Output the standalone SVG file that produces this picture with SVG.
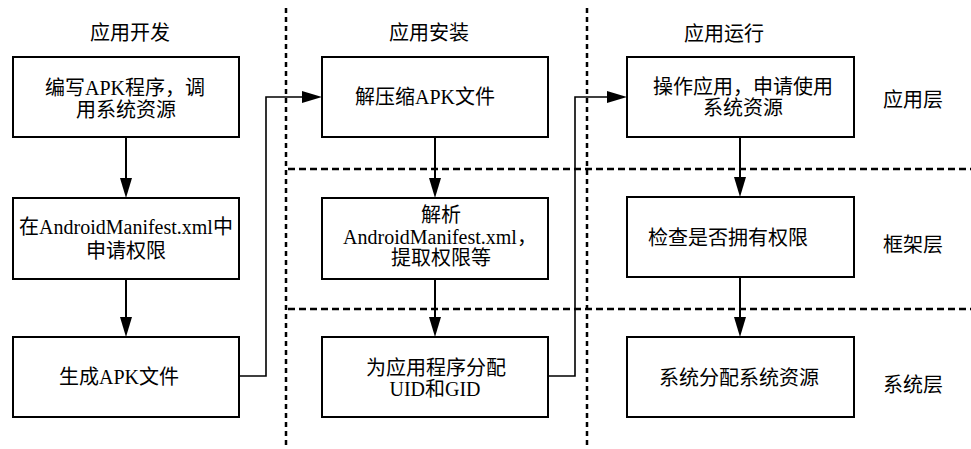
<svg xmlns="http://www.w3.org/2000/svg" width="971" height="449" viewBox="0 0 971 449">
<style>
.box{fill:#fff;stroke:#000;stroke-width:2}
.t{font-family:"Liberation Serif","Noto Sans CJK SC",serif;font-size:20px;fill:#000;text-anchor:middle}
.con{fill:none;stroke:#000;stroke-width:2}
.el{fill:none;stroke:#000;stroke-width:1.6}
.vd{fill:none;stroke:#000;stroke-width:2.5;stroke-dasharray:5 4}
.hd{fill:none;stroke:#000;stroke-width:2.5;stroke-dasharray:7 4}
</style>
<defs>
<marker id="arr" viewBox="0 0 20 12" refX="0" refY="6" markerWidth="20" markerHeight="12" markerUnits="userSpaceOnUse" orient="auto">
<path d="M0,0 L20,6 L0,12 z" fill="#000"/>
</marker>
</defs>
<rect width="971" height="449" fill="#fff"/>
<g id="separators">
<line class="vd" x1="286" y1="8" x2="286" y2="449"/>
<line class="vd" x1="587" y1="8" x2="587" y2="449"/>
<line class="hd" x1="288" y1="169" x2="971" y2="169"/>
<line class="hd" x1="288" y1="309" x2="971" y2="309"/>
</g>
<g id="titles">
<text class="t" x="130" y="40">应用开发</text>
<text class="t" x="429" y="40">应用安装</text>
<text class="t" x="724" y="41">应用运行</text>
<text class="t" x="913" y="107">应用层</text>
<text class="t" x="913" y="252">框架层</text>
<text class="t" x="913" y="392">系统层</text>
</g>
<g id="n1"><rect class="box" x="13" y="57" width="226" height="80"/>
<text class="t" x="125" y="95">编写APK程序，调</text><text class="t" x="126" y="117">用系统资源</text></g>
<g id="n2"><rect class="box" x="13" y="198" width="226" height="81"/>
<text class="t" x="126" y="234">在AndroidManifest.xml中</text><text class="t" x="126" y="258">申请权限</text></g>
<g id="n3"><rect class="box" x="13" y="337" width="226" height="80"/>
<text class="t" x="119" y="384">生成APK文件</text></g>
<g id="n4"><rect class="box" x="322" y="57" width="226" height="80"/>
<text class="t" x="425" y="104">解压缩APK文件</text></g>
<g id="n5"><rect class="box" x="322" y="198" width="226" height="81"/>
<text class="t" x="441" y="222">解析</text><text class="t" x="440" y="244">AndroidManifest.xml，</text><text class="t" x="441" y="265">提取权限等</text></g>
<g id="n6"><rect class="box" x="322" y="337" width="226" height="80"/>
<text class="t" x="436" y="375">为应用程序分配</text><text class="t" x="435" y="396">UID和GID</text></g>
<g id="n7"><rect class="box" x="627" y="57" width="227" height="80"/>
<text class="t" x="743" y="94">操作应用，申请使用</text><text class="t" x="743" y="115">系统资源</text></g>
<g id="n8"><rect class="box" x="627" y="197" width="227" height="80"/>
<text class="t" x="728" y="245">检查是否拥有权限</text></g>
<g id="n9"><rect class="box" x="627" y="337" width="227" height="80"/>
<text class="t" x="739" y="385">系统分配系统资源</text></g>
<g id="connectors">
<path class="con" d="M126,137 V178" marker-end="url(#arr)"/>
<path class="con" d="M126,279 V317" marker-end="url(#arr)"/>
<path class="con" d="M435,137 V178" marker-end="url(#arr)"/>
<path class="con" d="M435,279 V317" marker-end="url(#arr)"/>
<path class="con" d="M740,137 V177" marker-end="url(#arr)"/>
<path class="con" d="M740,277 V317" marker-end="url(#arr)"/>
<path class="el" d="M239,376 H266 V97 H302" marker-end="url(#arr)"/>
<path class="el" d="M548,376 H575 V97 H607" marker-end="url(#arr)"/>
</g>
</svg>
